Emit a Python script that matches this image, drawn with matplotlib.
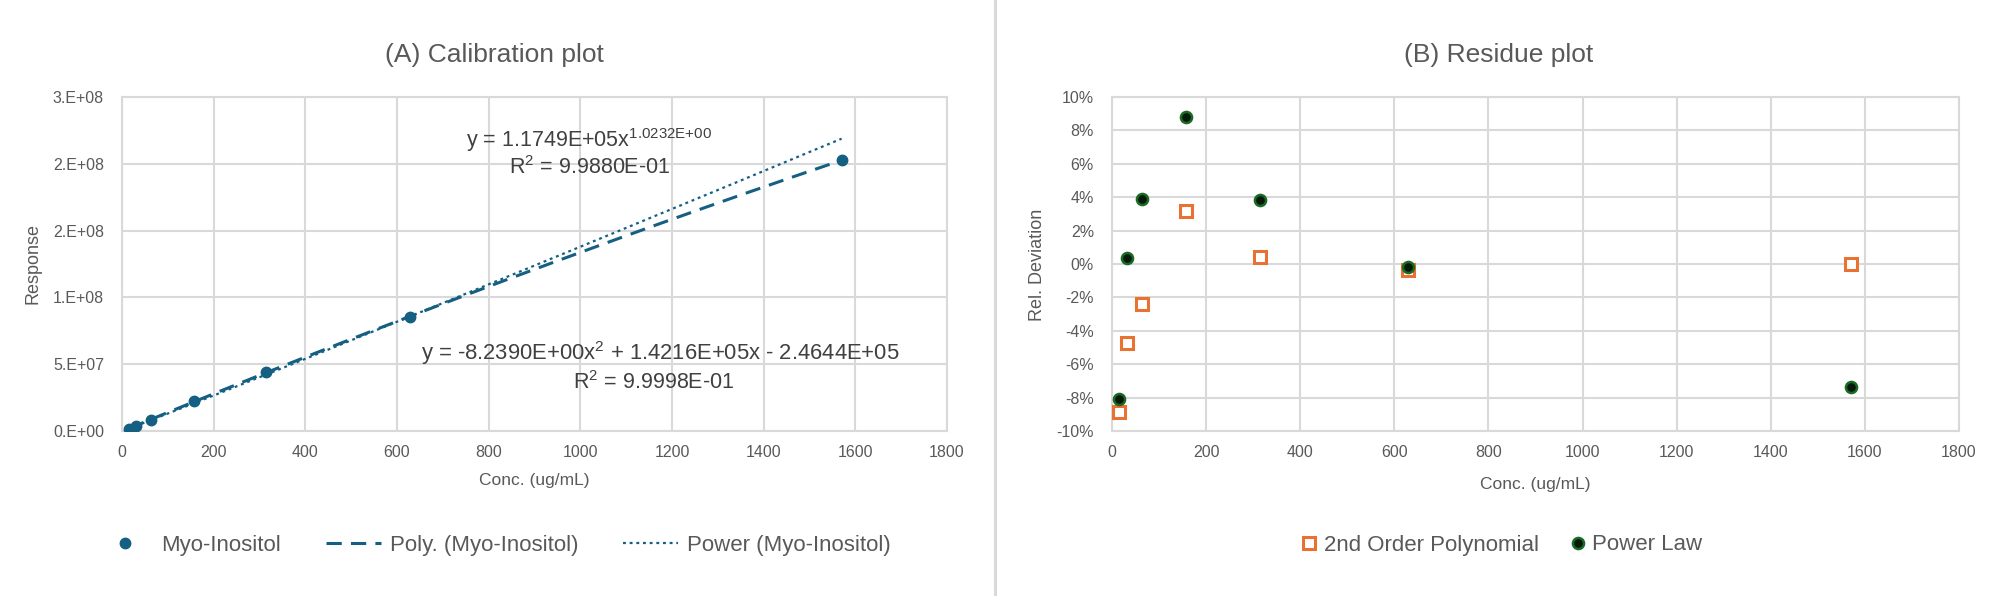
import numpy as np
import matplotlib
matplotlib.use("Agg")
import matplotlib.pyplot as plt
from matplotlib.lines import Line2D
from matplotlib.ticker import FuncFormatter

plt.rcParams['font.family'] = ['Liberation Sans', 'DejaVu Sans']
plt.rcParams['axes.unicode_minus'] = False
plt.rcParams['mathtext.fontset'] = 'custom'
plt.rcParams['mathtext.rm'] = 'Liberation Sans'
plt.rcParams['mathtext.default'] = 'regular'

# calibration data (Myo-Inositol)
conc = [15.7, 31.4, 62.8, 157, 314, 628, 1570]
response = [1.81e6, 4.01e6, 8.44e6, 2.257e7, 4.38e7, 8.55e7, 2.026e8]

# trendline coefficients as printed on the chart
poly_coef = [-8.2390, 1.4216e5, -2.4644e5]
power_a = 1.1749e5
power_b = 1.0232

# relative deviation (%) of each fit
resid_poly = [-8.86, -4.71, -2.40, 3.15, 0.44, -0.36, 0.02]
resid_power = [-8.1, 0.34, 3.9, 8.8, 3.83, -0.2, -7.37]

x_ticks = [0, 200, 400, 600, 800, 1000, 1200, 1400, 1600, 1800]
resp_ticks = [0, 5e7, 1e8, 1.5e8, 2e8, 2.5e8]
resp_ticklabels = ['0.E+00', '5.E+07', '1.E+08', '2.E+08', '2.E+08', '3.E+08']
resid_ticks = [-10, -8, -6, -4, -2, 0, 2, 4, 6, 8, 10]

W, H = 2000, 596
blue = '#156082'
orange = '#E97132'
green = '#196B24'
grey_txt = '#595959'
grid_c = '#d9d9d9'


def fx(x):
    return x / W


def fy(y):
    return 1 - y / H


fig = plt.figure(figsize=(20, 5.96), dpi=100)
ax1 = fig.add_axes([fx(122), fy(431), fx(947 - 122), (431 - 97) / H])
ax2 = fig.add_axes([fx(1112), fy(431), fx(1959 - 1112), (431 - 97) / H])

for ax in (ax1, ax2):
    ax.set_xlim(0, 1800)
    ax.set_xticks(x_ticks)
    ax.grid(True, color=grid_c, lw=1.5)
    ax.set_axisbelow(True)
    for s in ax.spines.values():
        s.set_color(grid_c)
        s.set_linewidth(1.5)
    ax.tick_params(length=0, labelsize=11.5, labelcolor=grey_txt)
    ax.tick_params(axis='y', pad=13)
    ax.tick_params(axis='x', pad=10)

# (A) calibration
xs = np.linspace(conc[0], conc[-1], 300)
poly_y = np.polyval(poly_coef, xs)
power_y = power_a * xs ** power_b
h_pts, = ax1.plot(conc, response, 'o', color=blue, ms=7.5, zorder=3,
                  label='Myo-Inositol')
h_poly, = ax1.plot(xs, poly_y, color=blue, lw=2.2, dashes=(5, 3), zorder=4,
                   label='Poly. (Myo-Inositol)')
h_pow, = ax1.plot(xs, power_y, color=blue, lw=1.6, dashes=(1.3, 1.7), zorder=4,
                  label='Power (Myo-Inositol)')
ax1.set_ylim(0, 2.5e8)
ax1.set_yticks(resp_ticks)
ax1.set_yticklabels(resp_ticklabels)

# (B) residue
h_sq, = ax2.plot(conc, resid_poly, 's', mfc='white', mec=orange, mew=2.2, ms=8,
                 ls='none', label='2nd Order Polynomial', zorder=3)
h_dot, = ax2.plot(conc, resid_power, 'o', mfc='#061a0b', mec=green, mew=1.8, ms=8,
                  ls='none', label='Power Law', zorder=4)
ax2.set_ylim(-10, 10)
ax2.set_yticks(resid_ticks)
ax2.yaxis.set_major_formatter(FuncFormatter(lambda v, p: '%d%%' % round(v)))

# titles
fig.text(fx(494), fy(55), '(A) Calibration plot', ha='center', va='center',
         fontsize=19, color=grey_txt)
fig.text(fx(1499), fy(55), '(B) Residue plot', ha='center', va='center',
         fontsize=19, color=grey_txt)

# axis titles
fig.text(fx(33), fy(264), 'Response', rotation=90, ha='center', va='center',
         fontsize=13, color=grey_txt)
fig.text(fx(1037), fy(265), 'Rel. Deviation', rotation=90, ha='center', va='center',
         fontsize=13, color=grey_txt)
fig.text(fx(534), fy(480), 'Conc. (ug/mL)', ha='center', va='center',
         fontsize=12.5, color=grey_txt)
fig.text(fx(1535), fy(485), 'Conc. (ug/mL)', ha='center', va='center',
         fontsize=12.5, color=grey_txt)

# trendline equations
eq_c = '#404040'
fig.text(fx(589), fy(140), 'y = 1.1749E+05x$^{1.0232E{+}00}$', ha='center', va='center',
         fontsize=15.5, color=eq_c)
fig.text(fx(590), fy(168), 'R$^2$ = 9.9880E-01', ha='center', va='center',
         fontsize=15.5, color=eq_c)
fig.text(fx(660), fy(353), 'y = -8.2390E+00x$^2$ + 1.4216E+05x - 2.4644E+05',
         ha='center', va='center', fontsize=15.8, color=eq_c)
fig.text(fx(654), fy(383), 'R$^2$ = 9.9998E-01', ha='center', va='center',
         fontsize=15.5, color=eq_c)

# legends
fig.legend(handles=[h_pts, h_poly, h_pow], loc='center',
           bbox_to_anchor=(fx(494), fy(545)), ncol=3, frameon=False,
           fontsize=16, labelcolor=grey_txt, handlelength=2.5,
           handletextpad=0.4, columnspacing=2.0)
fig.legend(handles=[h_sq, h_dot], loc='center',
           bbox_to_anchor=(fx(1502), fy(545)), ncol=2, frameon=False,
           fontsize=16, labelcolor=grey_txt, handlelength=0.7,
           handletextpad=0.3, columnspacing=1.4)

# separator between the two charts
fig.add_artist(Line2D([fx(995), fx(995)], [0, 1], transform=fig.transFigure,
                      color=grid_c, lw=2.2))

fig.savefig('out.png', dpi=100, facecolor='white')
